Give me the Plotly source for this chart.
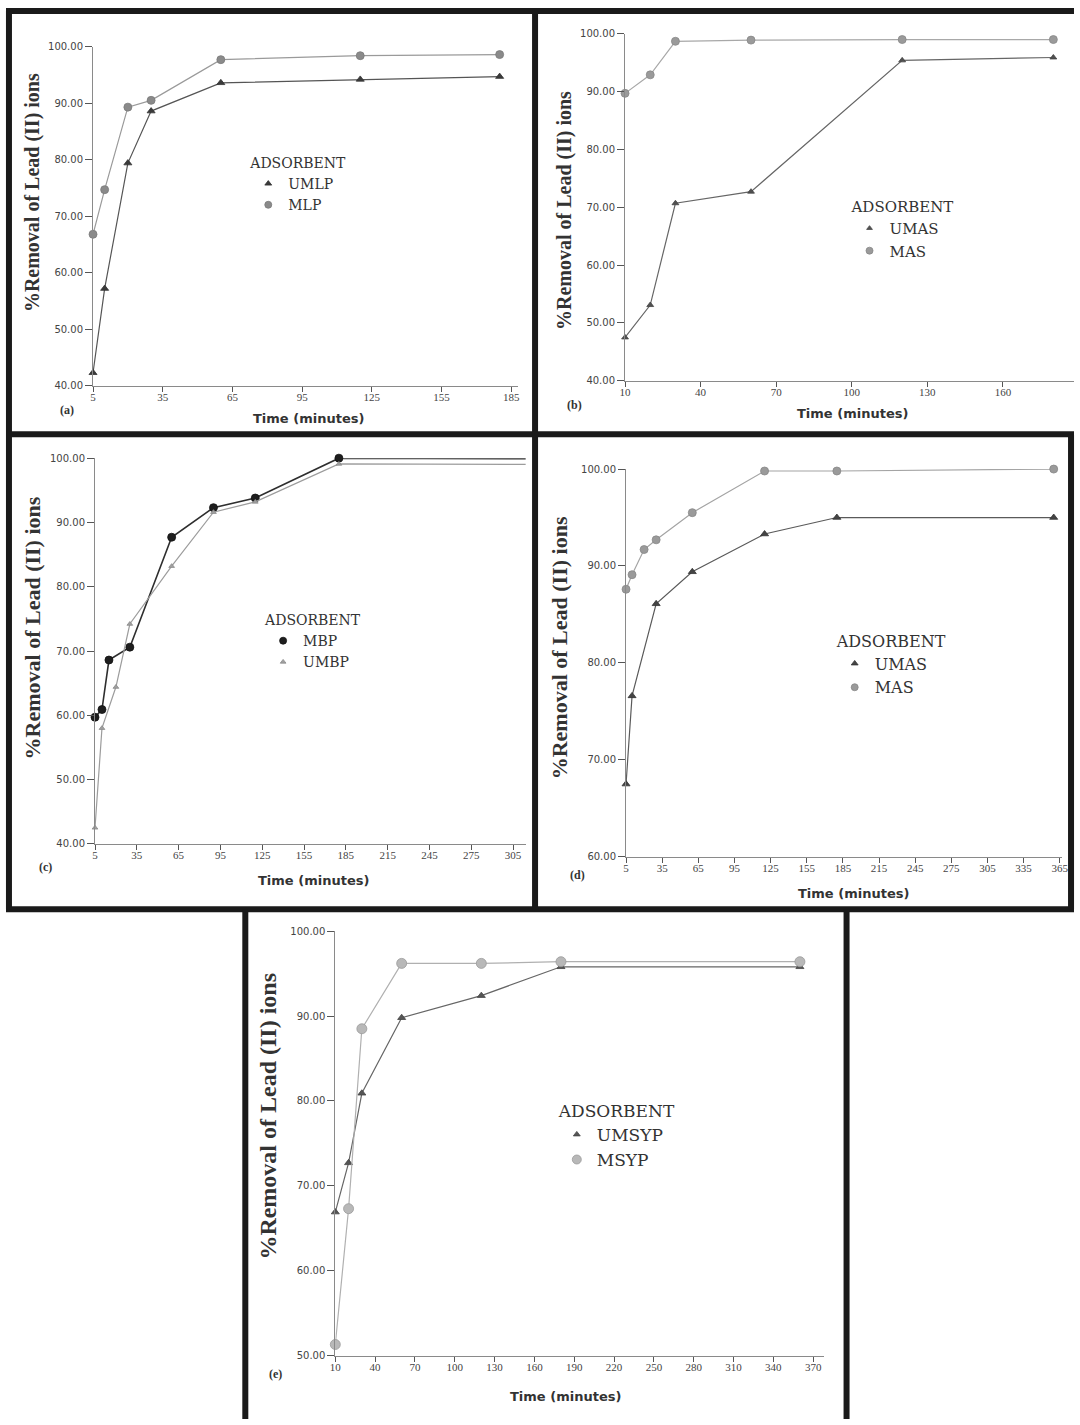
import plotly.graph_objects as go

# ---------------- data ----------------
# (a)
a_time = [5, 10, 20, 30, 60, 120, 180]
a_umlp = [42.3, 57.2, 79.4, 88.6, 93.6, 94.2, 94.7]
a_mlp = [66.8, 74.7, 89.3, 90.5, 97.7, 98.4, 98.6]
a_xticks = [5, 35, 65, 95, 125, 155, 185]
a_yticks = [40, 50, 60, 70, 80, 90, 100]

# (b)
b_time = [10, 20, 30, 60, 120, 180]
b_umas = [47.5, 53.1, 70.7, 72.7, 95.4, 95.9]
b_mas = [89.7, 92.9, 98.7, 98.9, 99.0, 99.0]
b_xticks = [10, 40, 70, 100, 130, 160]
b_yticks = [40, 50, 60, 70, 80, 90, 100]

# (c)
c_time_mbp = [5, 10, 15, 30, 60, 90, 120, 180, 360]
c_mbp = [59.7, 60.9, 68.6, 70.6, 87.7, 92.3, 93.8, 100.0, 99.9]
c_time_umbp = [5, 10, 20, 30, 60, 90, 120, 180, 360]
c_umbp = [42.5, 58.0, 64.4, 74.2, 83.2, 91.6, 93.2, 99.1, 99.0]
c_xticks = [5, 35, 65, 95, 125, 155, 185, 215, 245, 275, 305]
c_yticks = [40, 50, 60, 70, 80, 90, 100]

# (d)
d_time_umas = [5, 10, 30, 60, 120, 180, 360]
d_umas = [67.5, 76.6, 86.1, 89.4, 93.3, 95.0, 95.0]
d_time_mas = [5, 10, 20, 30, 60, 120, 180, 360]
d_mas = [87.6, 89.1, 91.7, 92.7, 95.5, 99.8, 99.8, 100.0]
d_xticks = [5, 35, 65, 95, 125, 155, 185, 215, 245, 275, 305, 335, 365]
d_yticks = [60, 70, 80, 90, 100]

# (e)
e_time = [10, 20, 30, 60, 120, 180, 360]
e_umsyp = [66.9, 72.7, 80.9, 89.8, 92.4, 95.8, 95.8]
e_msyp = [51.3, 67.3, 88.5, 96.2, 96.2, 96.4, 96.4]
e_xticks = [10, 40, 70, 100, 130, 160, 190, 220, 250, 280, 310, 340, 370]
e_yticks = [50, 60, 70, 80, 90, 100]

# ---------------- layout helpers ----------------
W, H = 1080, 1425


def fx(p):
    return p / W


def fy(p):
    return 1 - p / H


panels = [
    dict(label="(a)", xdom=(88, 518), ydom=(41, 383), xr=[5, 188], yr=[40, 100],
         xt=a_xticks, yt=a_yticks,
         series=[
             dict(name="UMLP", x=a_time, y=a_umlp, sym="triangle-up", size=7, col="#3a3a3a", line="#555555", edge="#333333", lw=1.2),
             dict(name="MLP", x=a_time, y=a_mlp, sym="circle", size=8, col="#8a8a8a", line="#9a9a9a", edge="#7a7a7a", lw=1.2),
         ],
         leg=(245, 145), lfs=14, yt_pos=(27, 188), yt_fs=20, xt_pos=(306, 416), lab_pos=(62, 407)),
    dict(label="(b)", xdom=(626, 1080), ydom=(28, 378), xr=[10, 188.2], yr=[40, 100],
         xt=b_xticks, yt=b_yticks,
         series=[
             dict(name="UMAS", x=b_time, y=b_umas, sym="triangle-up", size=6, col="#505050", line="#666666", edge="#444444", lw=1.2),
             dict(name="MAS", x=b_time, y=b_mas, sym="circle", size=8, col="#9a9a9a", line="#a8a8a8", edge="#888888", lw=1.2),
         ],
         leg=(853, 188), lfs=15, yt_pos=(565, 206), yt_fs=20, xt_pos=(856, 411), lab_pos=(575, 402)),
    dict(label="(c)", xdom=(90, 525.5), ydom=(456, 845), xr=[5, 314], yr=[40, 100],
         xt=c_xticks, yt=c_yticks,
         series=[
             dict(name="MBP", x=c_time_mbp, y=c_mbp, sym="circle", size=8, col="#1e1e1e", line="#2e2e2e", edge="#111111", lw=1.6),
             dict(name="UMBP", x=c_time_umbp, y=c_umbp, sym="triangle-up", size=5, col="#a0a0a0", line="#9c9c9c", edge="#8a8a8a", lw=1.2),
         ],
         leg=(260, 606), lfs=14, yt_pos=(27, 627), yt_fs=22, xt_pos=(311, 882), lab_pos=(40, 868)),
    dict(label="(d)", xdom=(627, 1068), ydom=(467, 858), xr=[5, 367], yr=[60, 100],
         xt=d_xticks, yt=d_yticks,
         series=[
             dict(name="UMAS", x=d_time_umas, y=d_umas, sym="triangle-up", size=7, col="#444444", line="#5a5a5a", edge="#333333", lw=1.2),
             dict(name="MAS", x=d_time_mas, y=d_mas, sym="circle", size=8, col="#9a9a9a", line="#a4a4a4", edge="#888888", lw=1.2),
         ],
         leg=(838, 625), lfs=16, yt_pos=(560, 647), yt_fs=22, xt_pos=(857, 895), lab_pos=(578, 876)),
    dict(label="(e)", xdom=(333, 827), ydom=(933, 1361), xr=[10, 378], yr=[50, 100],
         xt=e_xticks, yt=e_yticks,
         series=[
             dict(name="UMSYP", x=e_time, y=e_umsyp, sym="triangle-up", size=7, col="#555555", line="#666666", edge="#444444", lw=1.2),
             dict(name="MSYP", x=e_time, y=e_msyp, sym="circle", size=10, col="#b8b8b8", line="#b0b0b0", edge="#9a9a9a", lw=1.2),
         ],
         leg=(557, 1098), lfs=17, yt_pos=(265, 1120), yt_fs=24, xt_pos=(566, 1402), lab_pos=(273, 1380)),
]

fig = go.Figure()
layout_axes = {}
legends = {}
annotations = []

for i, p in enumerate(panels, start=1):
    sx = "" if i == 1 else str(i)
    xa, ya = "x" + sx, "y" + sx
    lg = "legend" + sx
    for s in p["series"]:
        # connecting line (clipped to the plot area)
        fig.add_trace(go.Scatter(
            x=s["x"], y=s["y"], mode="lines", xaxis=xa, yaxis=ya, showlegend=False,
            line=dict(color=s["line"], width=s["lw"]), hoverinfo="skip"))
        # markers for points inside the visible time range
        vis = [(xv, yv) for xv, yv in zip(s["x"], s["y"]) if xv <= p["xr"][1]]
        fig.add_trace(go.Scatter(
            x=[v[0] for v in vis], y=[v[1] for v in vis], mode="markers",
            xaxis=xa, yaxis=ya, showlegend=False, cliponaxis=False, name=s["name"],
            marker=dict(symbol=s["sym"], size=s["size"], color=s["col"],
                        line=dict(color=s["edge"], width=0.8))))
    for s in p["series"]:
        fig.add_trace(go.Scatter(
            x=[None], y=[None], mode="markers", xaxis=xa, yaxis=ya, name=s["name"],
            legend=lg, showlegend=True,
            marker=dict(symbol=s["sym"], size=max(s["size"] - 1, 5), color=s["col"],
                        line=dict(color=s["edge"], width=0.8))))

    layout_axes["xaxis" + sx] = dict(
        domain=[fx(p["xdom"][0]), fx(p["xdom"][1])], anchor=ya, range=p["xr"],
        tickvals=p["xt"], ticktext=[str(v) for v in p["xt"]],
        showline=True, linecolor="#8a8a8a", linewidth=1, ticks="outside", ticklen=5,
        tickcolor="#555555", tickwidth=1, showgrid=False, zeroline=False,
        ticklabelstandoff=-4,
        tickfont=dict(family="Liberation Serif", size=11, color="#444444"))
    layout_axes["yaxis" + sx] = dict(
        domain=[fy(p["ydom"][1]), fy(p["ydom"][0])], anchor=xa, range=p["yr"],
        tickvals=p["yt"], tickformat=".2f",
        showline=True, linecolor="#8a8a8a", linewidth=1, ticks="outside", ticklen=7,
        tickcolor="#555555", tickwidth=1, showgrid=False, zeroline=False,
        tickfont=dict(family="DejaVu Sans", size=10, color="#444444"))
    legends[lg] = dict(
        x=fx(p["leg"][0]), y=fy(p["leg"][1]), xanchor="left", yanchor="top",
        bgcolor="rgba(0,0,0,0)", borderwidth=0, tracegroupgap=0, itemwidth=30,
        traceorder="normal",
        title=dict(text="ADSORBENT", side="top",
                   font=dict(family="DejaVu Serif", size=p["lfs"], color="#333333")),
        font=dict(family="DejaVu Serif", size=p["lfs"], color="#333333"))

    annotations.append(dict(
        text="%Removal of Lead (II) ions", xref="paper", yref="paper",
        x=fx(p["yt_pos"][0]), y=fy(p["yt_pos"][1]), xanchor="center", yanchor="middle",
        textangle=-90, showarrow=False,
        font=dict(family="Liberation Serif", size=p["yt_fs"], color="#333333", weight="bold")))
    annotations.append(dict(
        text="<b>Time (minutes)</b>", xref="paper", yref="paper",
        x=fx(p["xt_pos"][0]), y=fy(p["xt_pos"][1]), xanchor="center", yanchor="middle",
        showarrow=False, font=dict(family="DejaVu Sans", size=13, color="#333333")))
    annotations.append(dict(
        text="<b>" + p["label"] + "</b>", xref="paper", yref="paper",
        x=fx(p["lab_pos"][0]), y=fy(p["lab_pos"][1]), xanchor="center", yanchor="middle",
        showarrow=False, font=dict(family="Liberation Serif", size=12, color="#333333")))

# panel frames
frame = dict(color="#1a1a1a", width=6)
shapes = []
for (x0, y0, x1, y1) in [
    (0, 5, 1080, 5), (0, 432, 1080, 432), (0, 911, 1080, 911),
    (3, 5, 3, 911), (535, 5, 535, 911), (1077, 432, 1077, 911),
    (242, 911, 242, 1425), (850, 911, 850, 1425),
]:
    shapes.append(dict(type="line", xref="paper", yref="paper",
                       x0=fx(x0), y0=fy(y0), x1=fx(x1), y1=fy(y1), line=frame))

fig.update_layout(
    width=W, height=H, margin=dict(l=0, r=0, t=0, b=0),
    paper_bgcolor="white", plot_bgcolor="rgba(0,0,0,0)",
    shapes=shapes, annotations=annotations, **layout_axes, **legends)

fig.write_html("out.html")
